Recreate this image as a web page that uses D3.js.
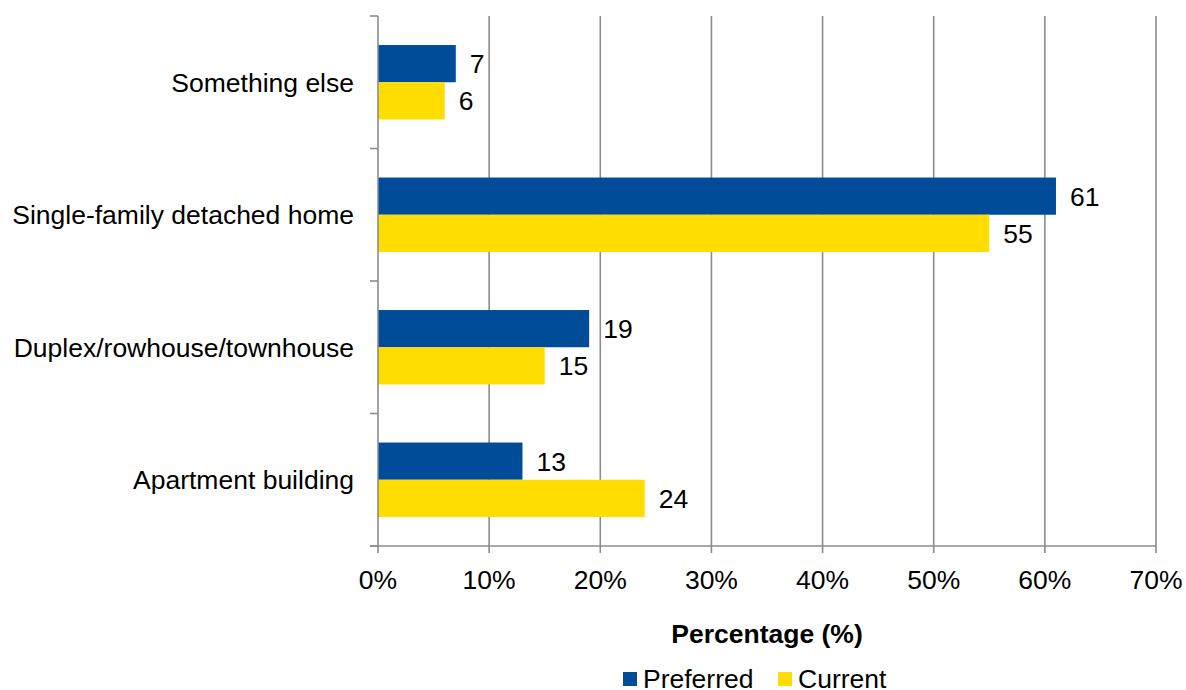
<!DOCTYPE html>
<html>
<head>
<meta charset="utf-8">
<script src="https://cdn.jsdelivr.net/npm/d3@7"></script>
<style>
  html, body { margin: 0; padding: 0; background: #fff; }
  svg text { font-family: "Liberation Sans", Arial, sans-serif; fill: #000; }
</style>
</head>
<body>
<svg id="chart" width="1186" height="690"></svg>
<script>
// Housing type: preferred vs current (percentage of respondents)
const categories = ["Something else", "Single-family detached home", "Duplex/rowhouse/townhouse", "Apartment building"];
const preferred = [7, 61, 19, 13];
const current = [6, 55, 15, 24];
const seriesNames = ["Preferred", "Current"];
const seriesColors = ["#004C99", "#FFDD00"];
const xTicks = [0, 10, 20, 30, 40, 50, 60, 70];

(function () {
const svg = d3.select("#chart");
const plotLeft = 378, plotRight = 1156, plotTop = 16, plotBottom = 546;
const fs = 26.5;

const x = d3.scaleLinear().domain([0, 70]).range([plotLeft, plotRight]);
const y = d3.scaleBand().domain(categories).range([plotTop, plotBottom]).paddingInner(0).paddingOuter(0);
const inner = d3.scaleBand().domain(seriesNames).range([0, y.bandwidth()]).paddingOuter(0.78).paddingInner(0);

// vertical gridlines
svg.append("g").selectAll("line").data(xTicks.slice(1)).join("line")
  .attr("x1", d => x(d)).attr("x2", d => x(d))
  .attr("y1", plotTop).attr("y2", plotBottom)
  .attr("stroke", "#8c8c8c").attr("stroke-width", 1.6);

// bars
const rows = categories.map((c, i) => ({ cat: c, vals: [preferred[i], current[i]] }));
const groups = svg.append("g").selectAll("g").data(rows).join("g")
  .attr("transform", d => `translate(0,${y(d.cat)})`);

groups.selectAll("rect").data(d => d.vals.map((v, j) => ({ v, s: seriesNames[j], c: seriesColors[j] })))
  .join("rect")
  .attr("x", x(0))
  .attr("y", d => inner(d.s))
  .attr("width", d => x(d.v) - x(0))
  .attr("height", inner.bandwidth())
  .attr("fill", d => d.c);

groups.selectAll("text.val").data(d => d.vals.map((v, j) => ({ v, s: seriesNames[j] })))
  .join("text").attr("class", "val")
  .attr("x", d => x(d.v) + 14)
  .attr("y", d => inner(d.s) + inner.bandwidth() / 2)
  .attr("dy", "0.36em")
  .attr("font-size", fs)
  .text(d => d.v);

// y axis
const yAxis = svg.append("g").attr("transform", `translate(${plotLeft},0)`);
yAxis.append("line").attr("x1", 0).attr("x2", 0).attr("y1", plotTop).attr("y2", plotBottom)
  .attr("stroke", "#8c8c8c").attr("stroke-width", 1.6);
const yTickPos = categories.map(c => y(c)).concat([plotBottom]);
yAxis.selectAll("line.tick").data(yTickPos).join("line").attr("class", "tick")
  .attr("x1", -8).attr("x2", 0).attr("y1", d => d).attr("y2", d => d)
  .attr("stroke", "#8c8c8c").attr("stroke-width", 1.6);
yAxis.selectAll("text").data(categories).join("text")
  .attr("x", -24)
  .attr("y", d => y(d) + y.bandwidth() / 2)
  .attr("dy", "0.36em")
  .attr("text-anchor", "end")
  .attr("font-size", fs)
  .text(d => d);

// x axis
const xAxis = svg.append("g").attr("transform", `translate(0,${plotBottom})`);
xAxis.append("line").attr("x1", plotLeft - 8).attr("x2", plotRight).attr("y1", 0).attr("y2", 0)
  .attr("stroke", "#8c8c8c").attr("stroke-width", 1.6);
xAxis.selectAll("line.tick").data(xTicks).join("line").attr("class", "tick")
  .attr("x1", d => x(d)).attr("x2", d => x(d)).attr("y1", 0).attr("y2", 7)
  .attr("stroke", "#8c8c8c").attr("stroke-width", 1.6);
xAxis.selectAll("text").data(xTicks).join("text")
  .attr("x", d => x(d))
  .attr("y", 33)
  .attr("dy", "0.36em")
  .attr("text-anchor", "middle")
  .attr("font-size", fs)
  .text(d => d + "%");

// axis title
svg.append("text")
  .attr("x", (plotLeft + plotRight) / 2).attr("y", 633).attr("dy", "0.36em")
  .attr("text-anchor", "middle").attr("font-size", fs).attr("font-weight", "bold")
  .text("Percentage (%)");

// legend
const legend = svg.append("g");
const legendX = [623, 778];
seriesNames.forEach((s, i) => {
  legend.append("rect").attr("x", legendX[i]).attr("y", 672).attr("width", 14).attr("height", 14)
    .attr("fill", seriesColors[i]);
  legend.append("text").attr("x", legendX[i] + 20).attr("y", 678).attr("dy", "0.36em")
    .attr("font-size", fs).text(s);
});
})();
</script>
</body>
</html>
